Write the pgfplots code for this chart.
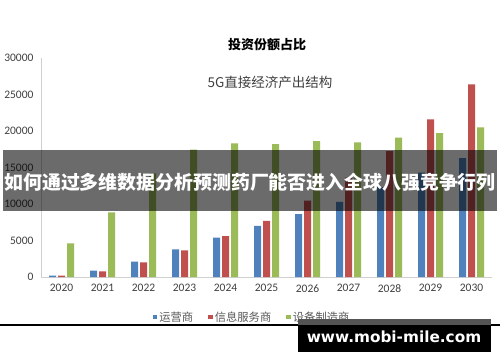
\documentclass[border=0pt]{standalone}
\usepackage{fontspec}
\setmainfont{Carlito}
\newfontfamily\cjk{Noto Sans CJK SC}
\newfontfamily\web{DejaVu Sans}
\usepackage{pgfplots}
\pgfplotsset{compat=1.18}
\definecolor{cblue}{HTML}{4F81BD}
\definecolor{cred}{HTML}{C0504D}
\definecolor{cgreen}{HTML}{9BBB59}
\definecolor{tickgray}{HTML}{404040}
\definecolor{leggray}{HTML}{595959}
\definecolor{axgray}{HTML}{D0D0D0}
\begin{document}
\begin{tikzpicture}[x=1pt,y=1pt]
\useasboundingbox (0,0) rectangle (500,362);
\fill[white] (0,0) rectangle (500,362);
\begin{axis}[
  at={(41pt,85pt)}, anchor=south west,
  scale only axis, width=451pt, height=219pt,
  xmin=-0.5, xmax=10.5, ymin=0, ymax=30000,
  axis x line*=bottom, axis y line*=left,
  axis line style={draw=axgray, line width=0.9pt, -},
  ytick={0,5000,10000,15000,20000,25000,30000},
  xtick={0,1,2,3,4,5,6,7,8,9,10},
  xticklabels={2020,2021,2022,2023,2024,2025,2026,2027,2028,2029,2030},
  major tick length=0pt,
  scaled y ticks=false,
  /pgf/number format/.cd, 1000 sep={}, assume math mode=true, /pgfplots/.cd,
  tick label style={font=\fontsize{11.5}{11.5}\selectfont, text=tickgray},
  yticklabel style={xshift=-4pt},
  xticklabel style={yshift=-4pt},
  ybar=2pt, bar width=7pt,
  legend style={at={(0.468,-0.183)}, anchor=center, draw=none, fill=none,
    font=\cjk\fontsize{11.3}{11.3}\selectfont, text=leggray,
    legend columns=3,
    /tikz/every even column/.append style={column sep=13pt}},
  legend image code/.code={\fill[#1] (0pt,-2.3pt) rectangle (4.6pt,2.3pt);},
]
\addplot[fill=cblue, draw=none] coordinates {(0,200) (1,860) (2,2100) (3,3790) (4,5380) (5,7000) (6,8600) (7,10300) (8,12300) (9,14300) (10,16300)};
\addplot[fill=cred, draw=none] coordinates {(0,200) (1,780) (2,2000) (3,3650) (4,5600) (5,7700) (6,10450) (7,13600) (8,17250) (9,21600) (10,26400)};
\addplot[fill=cgreen, draw=none] coordinates {(0,4600) (1,8860) (2,14200) (3,17450) (4,18300) (5,18200) (6,18600) (7,18450) (8,19080) (9,19700) (10,20500)};
\legend{运营商,信息服务商,设备制造商}
\end{axis}
\node[font=\cjk\bfseries\fontsize{13}{13}\selectfont, text=black] at (267,317) {投资份额占比};
\node[font=\cjk\fontsize{13.5}{13.5}\selectfont, text=tickgray] at (270,280) {5G直接经济产出结构};
\fill[black, opacity=0.58] (3,151) rectangle (497,212);
\node[font=\cjk\bfseries\fontsize{18.9}{18.9}\selectfont, text=white] at (250,180) {如何通过多维数据分析预测药厂能否进入全球八强竞争行列};
\draw[black, line width=1.4pt] (0,37) -- (500,37);
\fill[black!67] (298,37) rectangle (491,43);
\fill[black] (298,10) rectangle (491,37);
\node[font=\web\bfseries\fontsize{15.3}{15.3}\selectfont, text=white] at (394,25) {www.mobi-mile.com};
\end{tikzpicture}
\end{document}
